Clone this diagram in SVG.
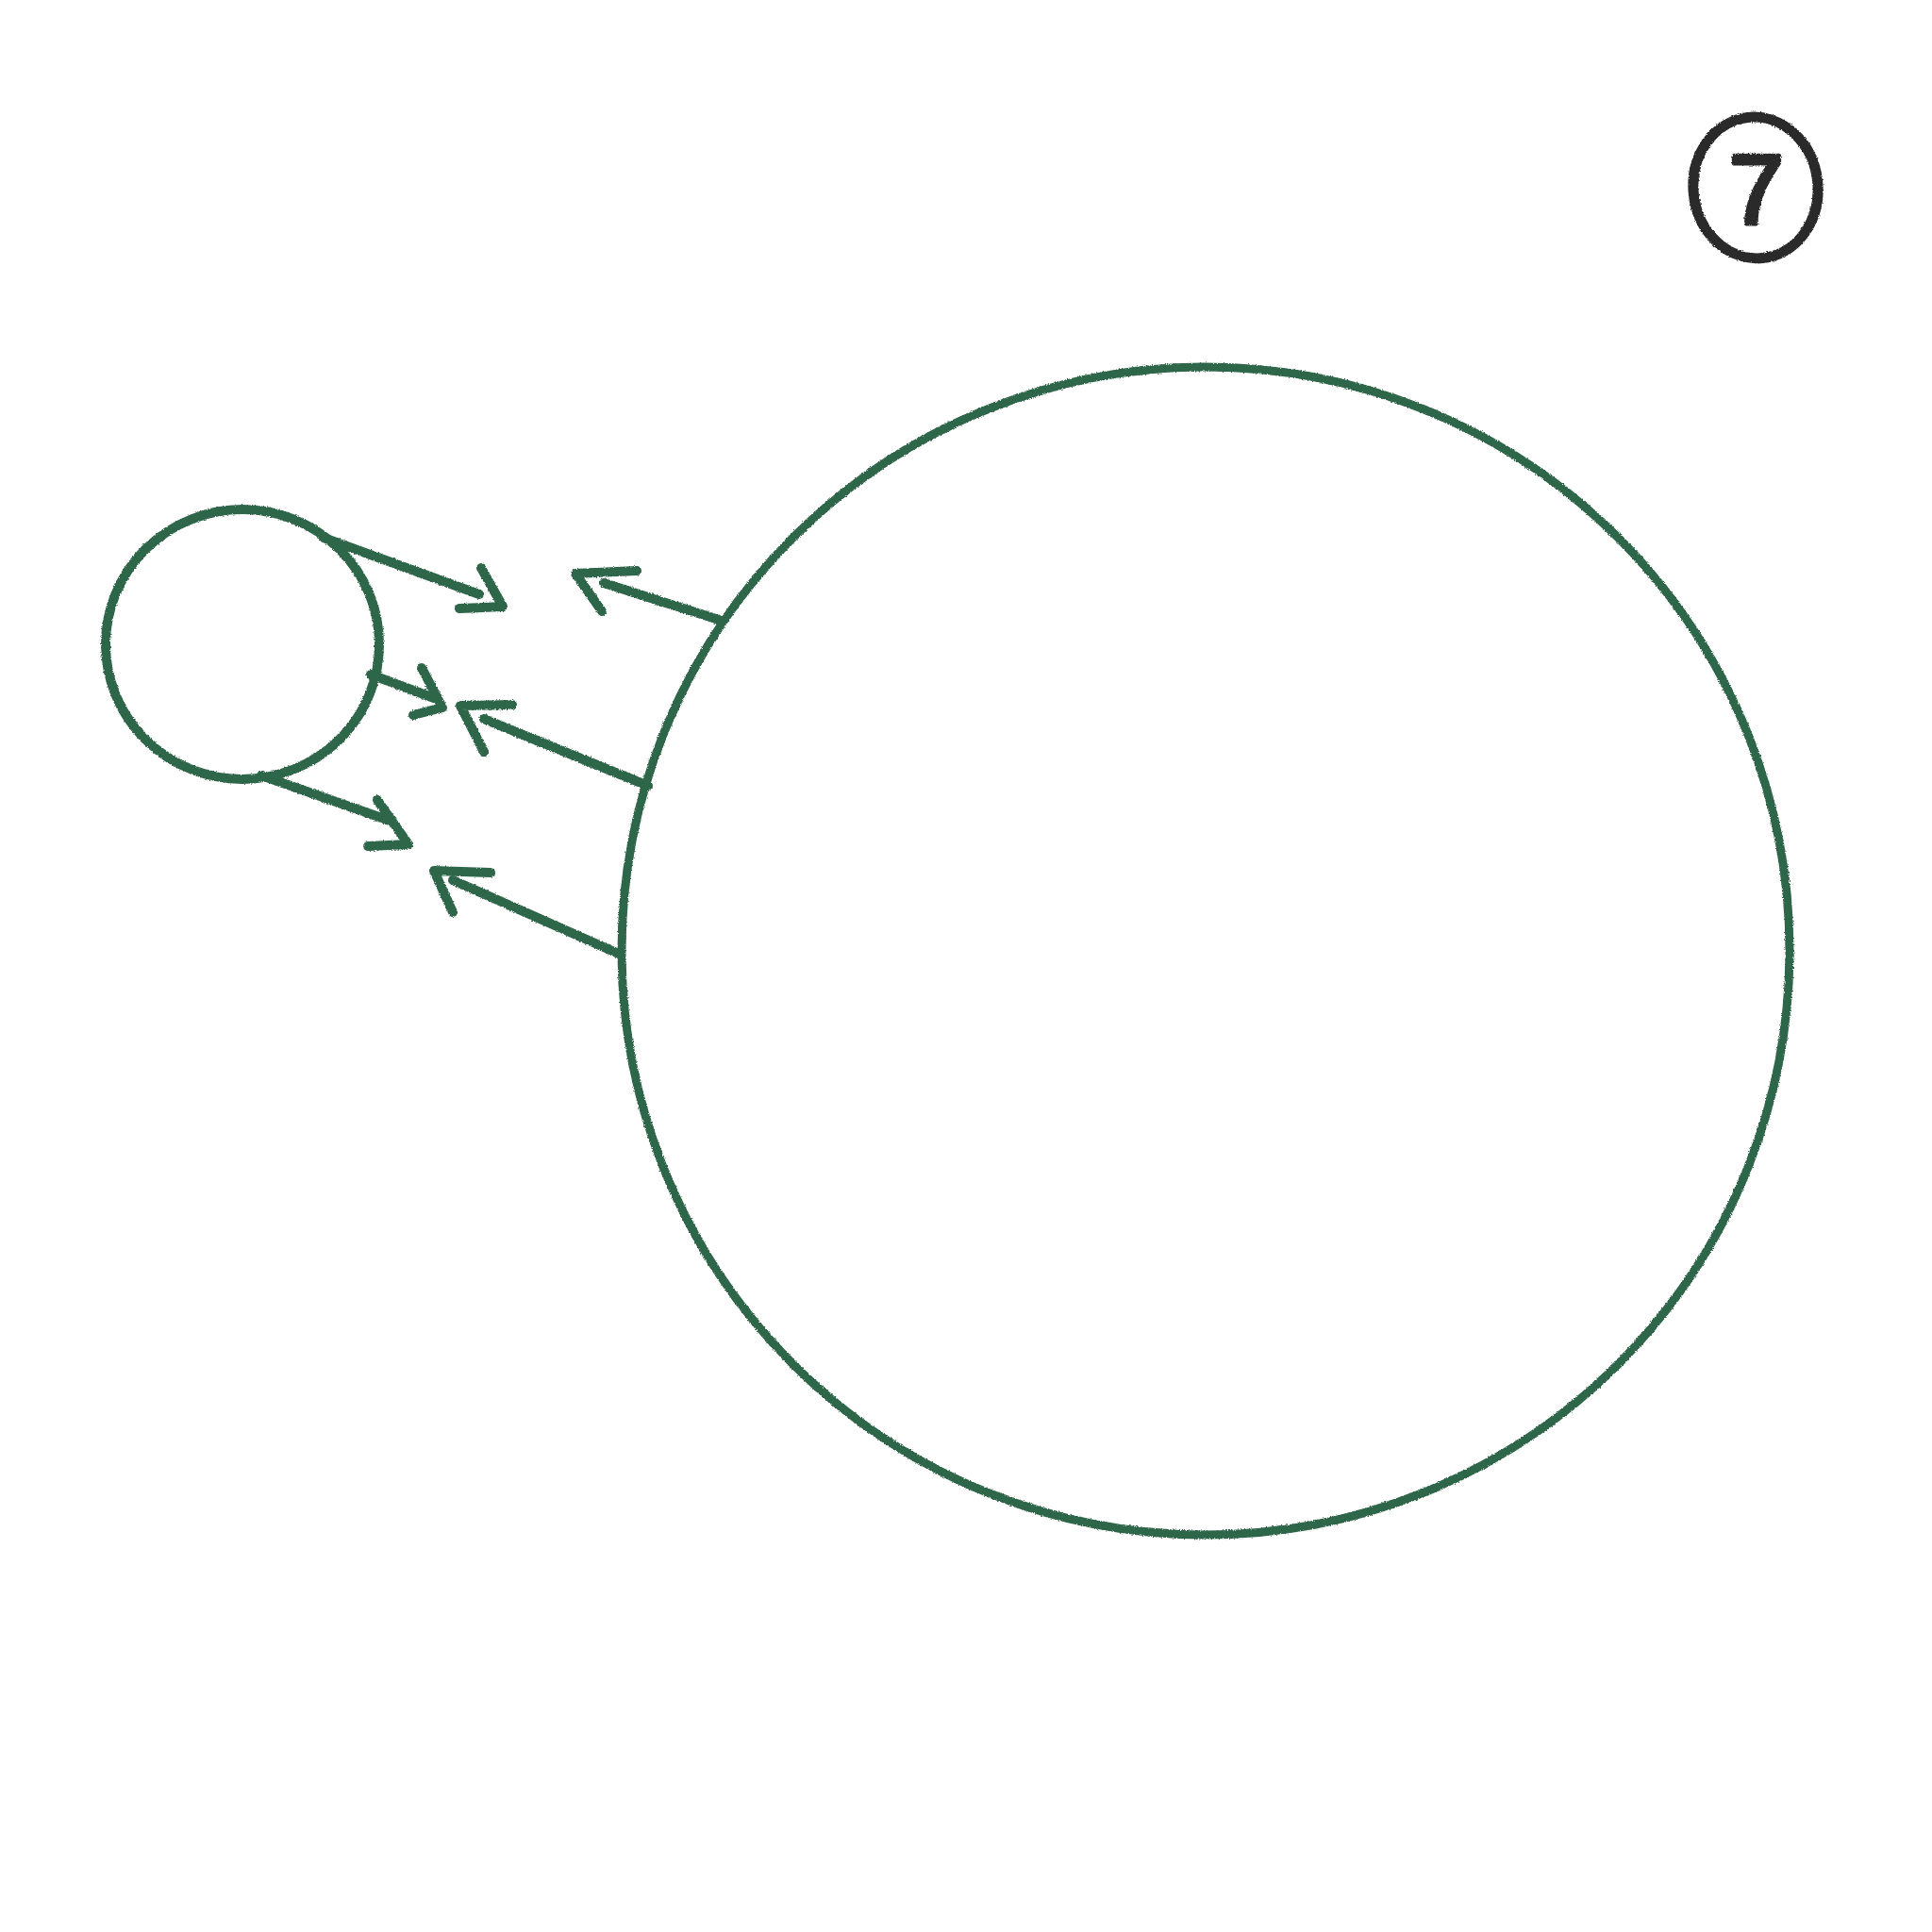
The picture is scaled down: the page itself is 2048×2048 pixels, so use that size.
<svg xmlns="http://www.w3.org/2000/svg" width="2048" height="2048" viewBox="0 0 2048 2048">
<defs>
<filter id="pencil" x="-5%" y="-5%" width="110%" height="110%">
<feTurbulence type="fractalNoise" baseFrequency="0.8" numOctaves="2" seed="3" result="n"/>
<feDisplacementMap in="SourceGraphic" in2="n" scale="3" xChannelSelector="R" yChannelSelector="G"/>
</filter>
<style>
.g{fill:none;stroke:#2f6649;stroke-linecap:round;stroke-linejoin:round}
.big{stroke-width:9}
.small{stroke-width:10}
.arr{stroke-width:10}
.num{fill:none;stroke:#2b2b2b;stroke-width:11}
.t{font-family:"Liberation Sans",Arial,sans-serif;font-size:104px;fill:#2b2b2b;stroke:#2b2b2b;stroke-width:5;stroke-linejoin:round;text-anchor:middle}
</style>
</defs>
<rect width="2048" height="2048" fill="#ffffff"/>
<g id="label-7" filter="url(#pencil)">
<ellipse class="num" cx="1861" cy="199" rx="66" ry="75" transform="rotate(-6 1861 199)"/>
<text class="t" x="1862" y="237">7</text>
</g>
<g id="big-circle" filter="url(#pencil)">
<circle class="g big" cx="1278" cy="1008" r="619"/>
</g>
<g id="small-circle" filter="url(#pencil)">
<ellipse class="g small" cx="257" cy="683" rx="145" ry="143"/>
</g>
<g id="connectors" filter="url(#pencil)">
<g class="g arr">
<line x1="343" y1="570" x2="508" y2="630"/>
<polyline points="510,602 533,643 487,645"/>
<line x1="393" y1="715" x2="460" y2="740"/>
<polyline points="447,708 469,750 438,758"/>
<line x1="277" y1="822" x2="413" y2="870"/>
<polyline points="400,848 433,895 390,897"/>
<line x1="762" y1="657" x2="640" y2="618"/>
<polyline points="675,605 610,608 638,648"/>
<line x1="687" y1="833" x2="513" y2="762"/>
<polyline points="543,747 488,748 513,797"/>
<line x1="658" y1="1012" x2="480" y2="933"/>
<polyline points="520,925 460,923 480,967"/>
</g>
</g>
</svg>
